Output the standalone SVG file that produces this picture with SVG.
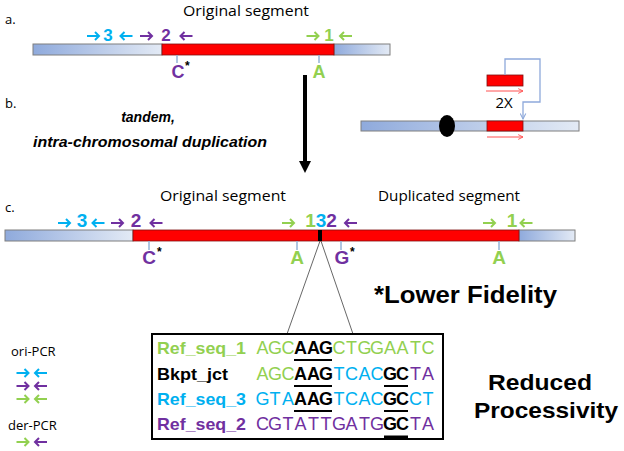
<svg xmlns="http://www.w3.org/2000/svg" xmlns:xlink="http://www.w3.org/1999/xlink" width="624" height="451" viewBox="0 0 624 451">
<defs>
<linearGradient id="bg" x1="0" y1="0" x2="1" y2="0">
<stop offset="0" stop-color="#8FAADC"/>
<stop offset="1" stop-color="#E3EAF5"/>
</linearGradient>
<path id="ar" d="M-6,0 H6 M2,-4 L6,0 L2,4"/>
<path id="al" d="M6,0 H-6 M-2,-4 L-6,0 L-2,4"/>
<marker id="rh" viewBox="0 0 10 10" refX="9" refY="5" markerWidth="6" markerHeight="6" orient="auto" markerUnits="userSpaceOnUse">
<path d="M1,1 L9,5 L1,9" fill="none" stroke="#FF5050" stroke-width="1.5"/>
</marker>
<marker id="bh" viewBox="0 0 10 10" refX="9" refY="5" markerWidth="7" markerHeight="7" orient="auto" markerUnits="userSpaceOnUse">
<path d="M1,1 L9,5 L1,9" fill="none" stroke="#8EA9DB" stroke-width="1.5"/>
</marker>
<style>
.t{font-family:"Open Sans","Liberation Sans",sans-serif;font-size:15px;fill:#000}
.s{font-family:"Open Sans","Liberation Sans",sans-serif;font-size:13px;fill:#000}
.b{font-family:"Liberation Sans",Arial,sans-serif;font-weight:bold}
.n{font-family:"Liberation Sans",Arial,sans-serif;font-weight:bold;text-anchor:middle}
.gt{fill:#92D050}.ct{fill:#00B0F0}.pt{fill:#7030A0}.kt{fill:#000;font-weight:bold}
.ga{stroke:#92D050;fill:none;stroke-width:2}
.ca{stroke:#00B0F0;fill:none;stroke-width:2}
.pa{stroke:#7030A0;fill:none;stroke-width:2}
.bar{fill:url(#bg);stroke:#7F7F7F;stroke-width:1}
.red{fill:#FF0000;stroke:#7F1010;stroke-width:0.8}
.tick{stroke:#95B3D7;stroke-width:1.5}
.seq{font-family:"Liberation Sans",Arial,sans-serif;font-size:18px;text-anchor:middle}
.ul{stroke:#000;stroke-width:2}
</style>
</defs>

<!-- section a -->
<g id="panel-a">
<text class="s" x="5" y="24">a.</text>
<text class="t" x="183" y="16" textLength="126" lengthAdjust="spacingAndGlyphs">Original segment</text>
<rect class="bar" x="33" y="44" width="129" height="11"/>
<rect class="bar" x="334" y="44" width="56" height="11"/>
<rect class="red" x="162" y="44" width="172" height="11"/>
<use href="#ar" x="93" y="36" class="ca"/>
<text class="n ct" x="108" y="41" font-size="17">3</text>
<use href="#al" x="126.5" y="36" class="ca"/>
<use href="#ar" x="146" y="36" class="pa"/>
<text class="n pt" x="166" y="41" font-size="17">2</text>
<use href="#al" x="186.5" y="36" class="pa"/>
<use href="#ar" x="312.5" y="36" class="ga"/>
<text class="n gt" x="329" y="41" font-size="17">1</text>
<use href="#al" x="346" y="36" class="ga"/>
<line class="tick" x1="177" y1="55" x2="177" y2="63"/>
<text class="n pt" x="178" y="78" font-size="18">C</text>
<text class="b" x="185" y="70" font-size="12">*</text>
<line class="tick" x1="319" y1="55" x2="319" y2="63"/>
<text class="n gt" x="319" y="78" font-size="18">A</text>
</g>

<!-- section b -->
<g id="panel-b">
<text class="s" x="5" y="108">b.</text>
<text class="b" x="148" y="122" font-size="14" font-style="italic" text-anchor="middle">tandem,</text>
<text class="b" x="150" y="147" font-size="14" font-style="italic" text-anchor="middle" textLength="234" lengthAdjust="spacingAndGlyphs">intra-chromosomal duplication</text>
<rect class="bar" x="361" y="121" width="218" height="10"/>
<ellipse cx="447" cy="126" rx="8" ry="11" fill="#000"/>
<rect class="red" x="487" y="121" width="36" height="10"/>
<line x1="487" y1="137" x2="523" y2="137" stroke="#FF5050" stroke-width="1" marker-end="url(#rh)"/>
<rect class="red" x="487" y="75" width="36" height="11"/>
<line x1="486" y1="91" x2="523" y2="91" stroke="#FF5050" stroke-width="1" marker-end="url(#rh)"/>
<text class="t" x="504" y="108" text-anchor="middle" font-size="14">2X</text>
</g>

<g id="connectors">
<path d="M505,75 V59 H540 V102 H523 V119" fill="none" stroke="#8EA9DB" stroke-width="1.3" marker-end="url(#bh)"/>
<line x1="305" y1="75" x2="305" y2="163" stroke="#000" stroke-width="4"/>
<polygon points="299,161 311,161 305,173" fill="#000"/>
<line x1="320" y1="241" x2="287" y2="334" stroke="#404040" stroke-width="0.8"/>
<line x1="321" y1="241" x2="353" y2="334" stroke="#404040" stroke-width="0.8"/>
</g>

<!-- section c -->
<g id="panel-c">
<text class="s" x="5" y="212">c.</text>
<text class="t" x="160" y="201" textLength="126" lengthAdjust="spacingAndGlyphs">Original segment</text>
<text class="t" x="378" y="201" textLength="142" lengthAdjust="spacingAndGlyphs">Duplicated segment</text>
<rect class="bar" x="5" y="230" width="128" height="11"/>
<rect class="bar" x="519" y="230" width="56" height="11"/>
<rect class="red" x="133" y="230" width="386" height="11"/>
<rect x="318" y="230" width="4" height="11" fill="#000"/>
<use href="#ar" x="64" y="223" class="ca"/>
<text class="n ct" x="82" y="227" font-size="19">3</text>
<use href="#al" x="98.5" y="223" class="ca"/>
<use href="#ar" x="117" y="223" class="pa"/>
<text class="n pt" x="136" y="227" font-size="19">2</text>
<use href="#al" x="156.5" y="223" class="pa"/>
<use href="#ar" x="288" y="223" class="ga"/>
<text class="n" x="321" y="227" font-size="19"><tspan class="gt">1</tspan><tspan class="ct">3</tspan><tspan class="pt">2</tspan></text>
<use href="#al" x="351" y="223" class="pa"/>
<use href="#ar" x="489" y="223" class="ga"/>
<text class="n gt" x="512" y="227" font-size="19">1</text>
<use href="#al" x="526.5" y="223" class="ga"/>
<line class="tick" x1="149" y1="241" x2="149" y2="250"/>
<text class="n pt" x="149" y="264" font-size="19">C</text>
<text class="b" x="157" y="256" font-size="12">*</text>
<line class="tick" x1="297" y1="241" x2="297" y2="250"/>
<text class="n gt" x="297" y="264" font-size="19">A</text>
<line class="tick" x1="341" y1="241" x2="341" y2="250"/>
<text class="n pt" x="342" y="264" font-size="19">G</text>
<text class="b" x="350" y="256" font-size="12">*</text>
<line class="tick" x1="499" y1="241" x2="499" y2="250"/>
<text class="n gt" x="499" y="264" font-size="19">A</text>
</g>

<g id="lower-fidelity">
<text class="b" x="374" y="303" font-size="24" textLength="183" lengthAdjust="spacingAndGlyphs">*Lower Fidelity</text>
</g>

<g id="reduced-processivity">
<text class="b" x="540" y="390" font-size="22" text-anchor="middle" textLength="104" lengthAdjust="spacingAndGlyphs">Reduced</text>
<text class="b" x="546" y="418" font-size="22" text-anchor="middle" textLength="144" lengthAdjust="spacingAndGlyphs">Processivity</text>
</g>

<!-- sequence box -->
<g id="sequence-box">
<rect x="152" y="334" width="291" height="105" fill="#fff" stroke="#000" stroke-width="2"/>
<text class="b gt" x="157" y="354" font-size="17" textLength="89" lengthAdjust="spacingAndGlyphs">Ref_seq_1</text>
<text class="b" x="157" y="379.5" font-size="17" textLength="71" lengthAdjust="spacingAndGlyphs">Bkpt_jct</text>
<text class="b ct" x="157" y="405" font-size="17" textLength="89" lengthAdjust="spacingAndGlyphs">Ref_seq_3</text>
<text class="b pt" x="157" y="430" font-size="17" textLength="89" lengthAdjust="spacingAndGlyphs">Ref_seq_2</text>

<text class="seq" y="354"><tspan class="gt" x="262.4 275.1 287.9">AGC</tspan><tspan class="kt" x="300.6 313.4 326.1">AAG</tspan><tspan class="gt" x="338.9 351.6 364.4 377.1 389.9 402.6 415.4 428.1">CTGGAATC</tspan></text>
<text class="seq" y="379.5"><tspan class="gt" x="262.4 275.1 287.9">AGC</tspan><tspan class="kt" x="300.6 313.4 326.1">AAG</tspan><tspan class="ct" x="338.9 351.6 364.4 377.1">TCAC</tspan><tspan class="kt" x="389.9 402.6">GC</tspan><tspan class="pt" x="415.4 428.1">TA</tspan></text>
<text class="seq" y="405"><tspan class="ct" x="262.4 275.1 287.9">GTA</tspan><tspan class="kt" x="300.6 313.4 326.1">AAG</tspan><tspan class="ct" x="338.9 351.6 364.4 377.1">TCAC</tspan><tspan class="kt" x="389.9 402.6">GC</tspan><tspan class="ct" x="415.4 428.1">CT</tspan></text>
<text class="seq" y="430"><tspan class="pt" x="262.4 275.1 287.9 300.6 313.4 326.1 338.9 351.6 364.4 377.1">CGTATTGATG</tspan><tspan class="kt" x="389.9 402.6">GC</tspan><tspan class="pt" x="415.4 428.1">TA</tspan></text>

<line class="ul" x1="294" y1="360" x2="332" y2="360"/>
<line class="ul" x1="294" y1="386" x2="332" y2="386"/>
<line class="ul" x1="384" y1="386" x2="408" y2="386"/>
<line class="ul" x1="294" y1="411" x2="332" y2="411"/>
<line class="ul" x1="384" y1="411" x2="408" y2="411"/>
<line x1="384" y1="437" x2="408" y2="437" stroke="#000" stroke-width="3"/>
</g>

<!-- legend -->
<g id="legend">
<text class="s" x="11" y="356">ori-PCR</text>
<use href="#ar" x="22.5" y="373" class="ca"/>
<use href="#al" x="41" y="373" class="ca"/>
<use href="#ar" x="22.5" y="386" class="pa"/>
<use href="#al" x="41" y="386" class="pa"/>
<use href="#ar" x="22.5" y="399" class="ga"/>
<use href="#al" x="41" y="399" class="ga"/>
<text class="s" x="8" y="430">der-PCR</text>
<use href="#ar" x="22.5" y="442" class="ga"/>
<use href="#al" x="41" y="442" class="pa"/>
</g>
</svg>
